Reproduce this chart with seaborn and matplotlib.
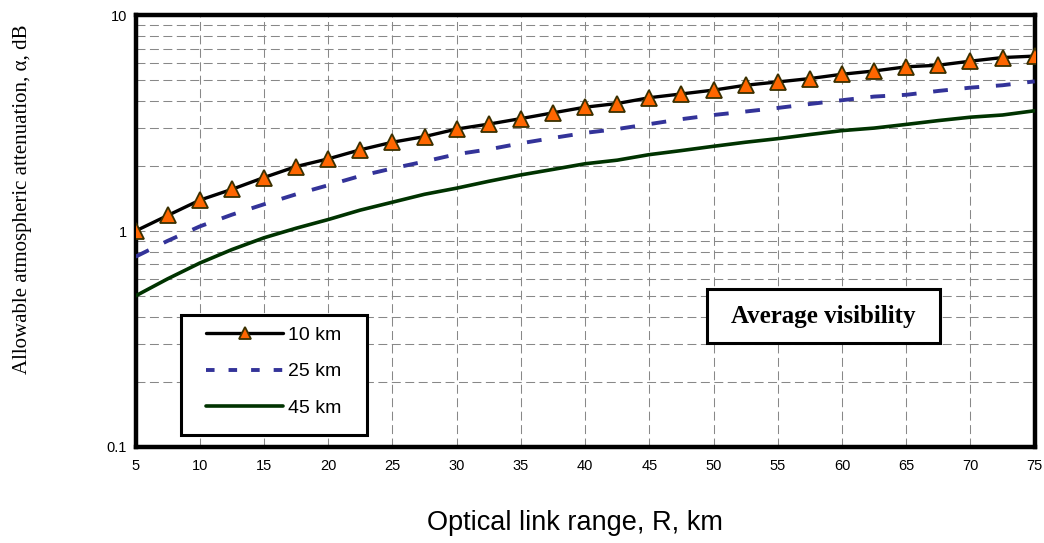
import matplotlib
matplotlib.use("Agg")
import matplotlib.pyplot as plt
from matplotlib.patches import Rectangle
from matplotlib.ticker import FixedLocator, NullFormatter, LogLocator, MultipleLocator
import numpy as np
import pandas as pd
import seaborn as sns

# ---- data ----
link_range_km = [5, 7.5, 10, 12.5, 15, 17.5, 20, 22.5, 25, 27.5, 30, 32.5, 35, 37.5, 40,
                 42.5, 45, 47.5, 50, 52.5, 55, 57.5, 60, 62.5, 65, 67.5, 70, 72.5, 75]
atten_10km = [1.00, 1.18, 1.39, 1.56, 1.77, 1.99, 2.16, 2.38, 2.58, 2.74, 2.97, 3.13, 3.32, 3.53, 3.75,
              3.90, 4.15, 4.32, 4.50, 4.74, 4.91, 5.09, 5.33, 5.52, 5.77, 5.87, 6.13, 6.37, 6.47]
atten_25km = [0.76, 0.90, 1.05, 1.19, 1.33, 1.48, 1.63, 1.80, 1.95, 2.10, 2.27, 2.39, 2.55, 2.70, 2.85,
              2.97, 3.13, 3.30, 3.45, 3.58, 3.72, 3.88, 4.04, 4.20, 4.28, 4.46, 4.62, 4.74, 4.94]
atten_45km = [0.50, 0.60, 0.71, 0.82, 0.93, 1.03, 1.13, 1.25, 1.36, 1.48, 1.58, 1.70, 1.82, 1.93, 2.05,
              2.13, 2.26, 2.36, 2.47, 2.58, 2.68, 2.80, 2.92, 3.00, 3.12, 3.25, 3.37, 3.45, 3.61]
series_labels = ["10 km", "25 km", "45 km"]
x_ticks = [5, 10, 15, 20, 25, 30, 35, 40, 45, 50, 55, 60, 65, 70, 75]
y_ticks = [0.1, 1, 10]
y_tick_labels = ["0.1", "1", "10"]

df = pd.DataFrame({"R": link_range_km, "10 km": atten_10km,
                   "25 km": atten_25km, "45 km": atten_45km})

sns.set_style("white")
plt.rcParams["font.family"] = ["Liberation Sans", "DejaVu Sans"]
plt.rcParams["text.color"] = "black"
plt.rcParams["axes.labelcolor"] = "black"
plt.rcParams["xtick.color"] = "black"
plt.rcParams["ytick.color"] = "black"

W, H = 1044, 543
fig = plt.figure(figsize=(W / 100, H / 100), dpi=100)
L, R_, T, B = 135.5, 1034.7, 15.3, 446.7
ax = fig.add_axes([L / W, 1 - B / H, (R_ - L) / W, (B - T) / H])

sns.lineplot(data=df, x="R", y="10 km", ax=ax, color="black", linewidth=2.4,
             marker="^", markersize=11, markerfacecolor="#FF6600",
             markeredgecolor="#3A3000", markeredgewidth=1.3, label=series_labels[0],
             zorder=5)
sns.lineplot(data=df, x="R", y="25 km", ax=ax, color="#333399", linewidth=2.8,
             linestyle=(0, (3.8, 4.3)), label=series_labels[1], zorder=4)
sns.lineplot(data=df, x="R", y="45 km", ax=ax, color="#003300", linewidth=2.6,
             label=series_labels[2], zorder=4)

ax.set_yscale("log")
ax.set_xlim(5, 75)
ax.set_ylim(0.1, 10)
ax.set_xlabel("")
ax.set_ylabel("")

ax.xaxis.set_major_locator(FixedLocator(x_ticks))
ax.xaxis.set_minor_locator(MultipleLocator(1))
ax.set_xticklabels([str(t) for t in x_ticks])
ax.yaxis.set_major_locator(FixedLocator(y_ticks))
ax.set_yticklabels(y_tick_labels)
ax.yaxis.set_minor_locator(LogLocator(base=10, subs=np.arange(2, 10)))
ax.yaxis.set_minor_formatter(NullFormatter())

ax.tick_params(axis="x", which="major", direction="in", length=4, width=1,
               labelsize=10.5, pad=9, colors="black")
ax.tick_params(axis="x", which="minor", direction="in", length=3, width=1, colors="black")
ax.tick_params(axis="y", which="both", direction="in", length=3, width=1,
               labelsize=10.5, pad=6, colors="black")

grid_kw = dict(color="#888888", linewidth=0.75, linestyle=(0, (8.6, 4.3)))
ax.grid(True, axis="x", which="major", **grid_kw)
ax.grid(True, axis="y", which="both", **grid_kw)
ax.set_axisbelow(True)

for sp in ax.spines.values():
    sp.set_visible(True)
    sp.set_color("black")
    sp.set_linewidth(3.2)

# legend with its box
def axfrac(px, py):
    return ((px - L) / (R_ - L), (B - py) / (B - T))

lx0, ly0 = axfrac(180.7, 435)
lx1, ly1 = axfrac(366.7, 315)
ax.add_patch(Rectangle((lx0, ly0), lx1 - lx0, ly1 - ly0, transform=ax.transAxes,
                       facecolor="white", edgecolor="black", linewidth=2.2, zorder=8))
leg = ax.legend(loc="center", bbox_to_anchor=((lx0 + lx1) / 2, (ly0 + ly1) / 2 + 0.008),
                frameon=False, fontsize=14, handlelength=4.0, handletextpad=0.25,
                labelspacing=0.98, numpoints=1, markerscale=0.8, borderpad=0)
leg.set_zorder(9)
leg_lines = leg.get_lines()
leg_lines[1].set_linestyle((0, (2.2, 3.6)))

# "Average visibility" box
bx0, by0 = axfrac(706.7, 343.3)
bx1, by1 = axfrac(940, 289.3)
ax.add_patch(Rectangle((bx0, by0), bx1 - bx0, by1 - by0, transform=ax.transAxes,
                       facecolor="white", edgecolor="black", linewidth=2.2, zorder=8))
ax.text((bx0 + bx1) / 2, (by0 + by1) / 2, "Average visibility", transform=ax.transAxes,
        ha="center", va="center", fontsize=18, fontweight="bold",
        family=["Liberation Serif", "DejaVu Serif"], zorder=9)

fig.text(574.6 / W, 1 - 523 / H, "Optical link range, R, km", ha="center", va="center",
         fontsize=19.5)
fig.text(23 / W, 1 - 199.5 / H, "Allowable atmospheric attenuation, \u03b1, dB",
         rotation=90, ha="center", va="center", fontsize=15,
         family=["Liberation Serif", "DejaVu Serif"])

fig.savefig("out.png", dpi=100)
